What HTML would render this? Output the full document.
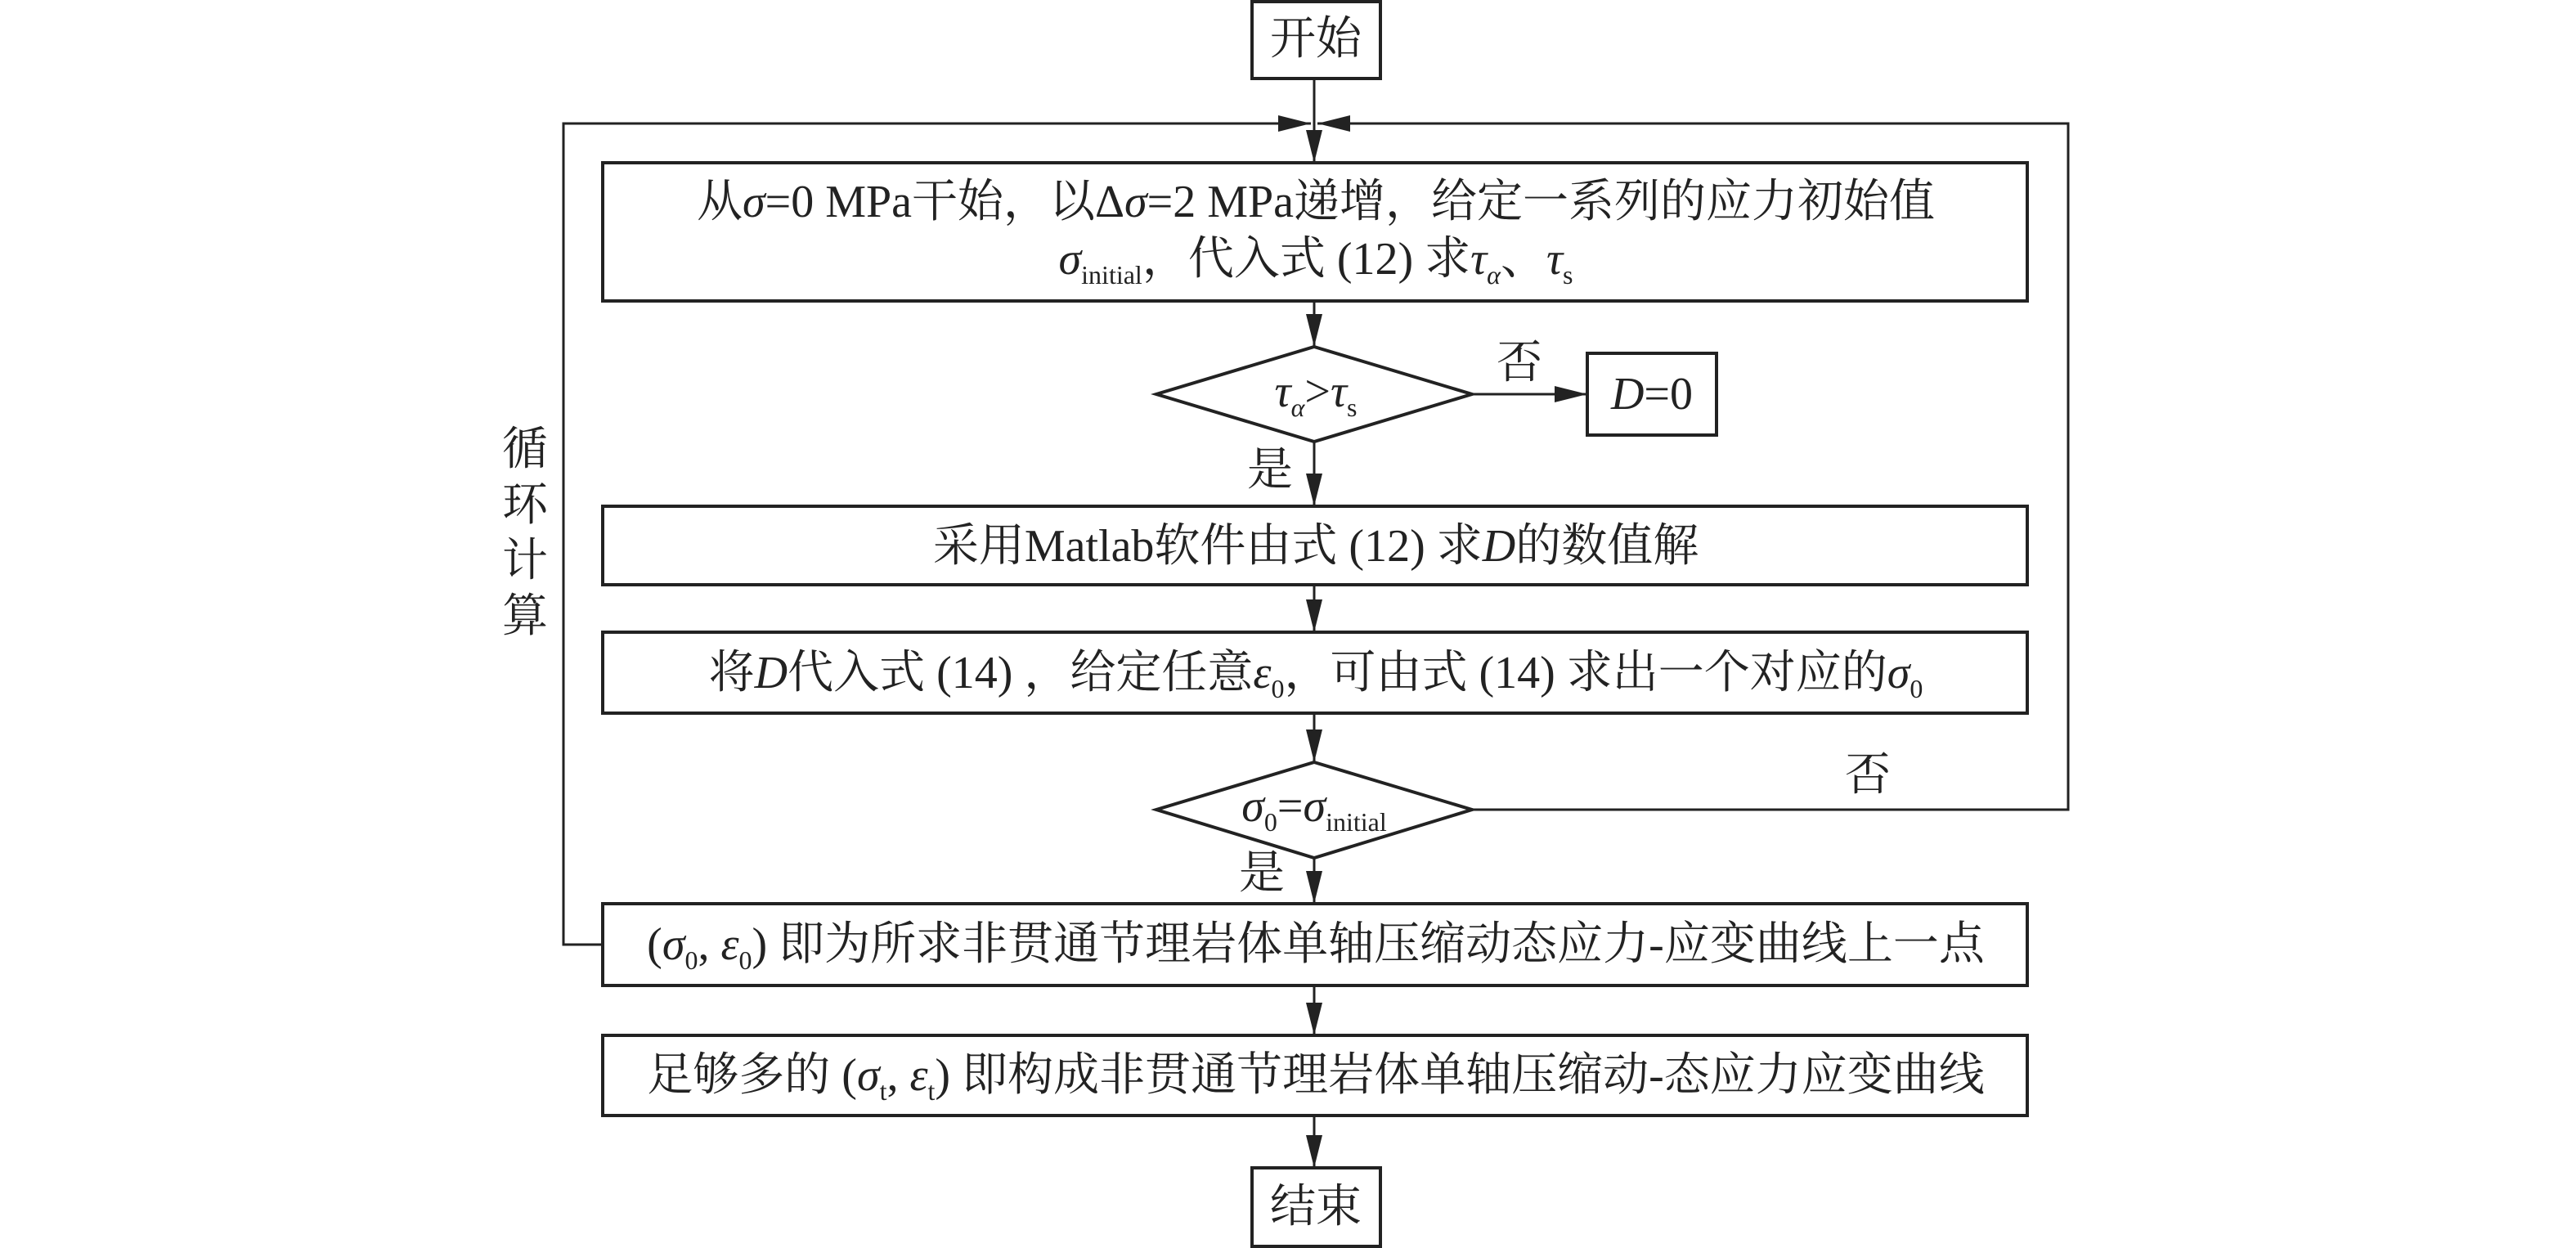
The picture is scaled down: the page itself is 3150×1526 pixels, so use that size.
<!DOCTYPE html>
<html><head><meta charset="utf-8"><style>
html,body{margin:0;padding:0;background:#fff;}
svg{display:block;}
text{font-family:"Liberation Serif","Noto Serif CJK SC",serif;font-size:56px;fill:#222;}
.i{font-style:italic;}
.s{font-size:32px;}
</style></head><body>
<svg width="3150" height="1526" viewBox="0 0 3150 1526" xmlns="http://www.w3.org/2000/svg">
<defs>
<marker id="a" markerWidth="40" markerHeight="20" refX="40" refY="10" orient="auto" markerUnits="userSpaceOnUse" viewBox="0 0 40 20">
<path d="M0,0 L40,10 L0,20 Z" fill="#222"/></marker>
</defs>
<g stroke="#222" stroke-width="4" fill="none">
<rect x="1531" y="2" width="157" height="94"/>
<rect x="737" y="199" width="1742" height="169"/>
<rect x="1941" y="432" width="158" height="100"/>
<rect x="737" y="619" width="1742" height="96"/>
<rect x="737" y="773" width="1742" height="99"/>
<rect x="737" y="1105" width="1742" height="100"/>
<rect x="737" y="1266" width="1742" height="98"/>
<rect x="1531" y="1428" width="157" height="96"/>
<polygon points="1607,424 1800,482 1607,540 1414,482"/>
<polygon points="1607,932 1800,990 1607,1049 1414,990"/>
</g>
<g stroke="#222" stroke-width="3" fill="none">
<line x1="1607" y1="96" x2="1607" y2="199" marker-end="url(#a)"/>
<polyline points="737,1155 689,1155 689,151 1603,151" marker-end="url(#a)"/>
<polyline points="1800,990 2529,990 2529,151 1611,151" marker-end="url(#a)"/>
<line x1="1607" y1="368" x2="1607" y2="424" marker-end="url(#a)"/>
<line x1="1800" y1="482" x2="1941" y2="482" marker-end="url(#a)"/>
<line x1="1607" y1="540" x2="1607" y2="619" marker-end="url(#a)"/>
<line x1="1607" y1="715" x2="1607" y2="773" marker-end="url(#a)"/>
<line x1="1607" y1="872" x2="1607" y2="932" marker-end="url(#a)"/>
<line x1="1607" y1="1049" x2="1607" y2="1105" marker-end="url(#a)"/>
<line x1="1607" y1="1205" x2="1607" y2="1266" marker-end="url(#a)"/>
<line x1="1607" y1="1364" x2="1607" y2="1428" marker-end="url(#a)"/>
</g>
<g text-anchor="middle">
<text x="1609" y="66">开始</text>
<text x="1609" y="265">从<tspan class="i">σ</tspan>=0 MPa干始，以Δ<tspan class="i">σ</tspan>=2 MPa递增，给定一系列的应力初始值</text>
<text x="1609" y="335"><tspan class="i">σ</tspan><tspan class="s" dy="12">initial</tspan><tspan dy="-12">，代入式 (12) 求</tspan><tspan class="i">τ</tspan><tspan class="s i" dy="12">α</tspan><tspan dy="-12">、</tspan><tspan class="i">τ</tspan><tspan class="s" dy="12">s</tspan></text>
<text x="1609" y="497"><tspan class="i">τ</tspan><tspan class="s i" dy="12">α</tspan><tspan dy="-12">&gt;</tspan><tspan class="i">τ</tspan><tspan class="s" dy="12">s</tspan></text>
<text x="2020" y="500"><tspan class="i">D</tspan>=0</text>
<text x="1858" y="462">否</text>
<text x="1553" y="593">是</text>
<text x="1609" y="686">采用Matlab软件由式 (12) 求<tspan class="i">D</tspan>的数值解</text>
<text x="1609" y="841">将<tspan class="i">D</tspan>代入式 (14) ，给定任意<tspan class="i">ε</tspan><tspan class="s" dy="12">0</tspan><tspan dy="-12">，可由式 (14) 求出一个对应的</tspan><tspan class="i">σ</tspan><tspan class="s" dy="12">0</tspan></text>
<text x="1607" y="1004"><tspan class="i">σ</tspan><tspan class="s" dy="12">0</tspan><tspan dy="-12">=</tspan><tspan class="i">σ</tspan><tspan class="s" dy="12">initial</tspan></text>
<text x="2284" y="966">否</text>
<text x="1543" y="1086">是</text>
<text x="1609" y="1173">(<tspan class="i">σ</tspan><tspan class="s" dy="12">0</tspan><tspan dy="-12">, </tspan><tspan class="i">ε</tspan><tspan class="s" dy="12">0</tspan><tspan dy="-12">) 即为所求非贯通节理岩体单轴压缩动态应力-应变曲线上一点</tspan></text>
<text x="1609" y="1333">足够多的 (<tspan class="i">σ</tspan><tspan class="s" dy="12">t</tspan><tspan dy="-12">, </tspan><tspan class="i">ε</tspan><tspan class="s" dy="12">t</tspan><tspan dy="-12">) 即构成非贯通节理岩体单轴压缩动-态应力应变曲线</tspan></text>
<text x="1609" y="1494">结束</text>
<text x="642" y="568">循</text>
<text x="642" y="636">环</text>
<text x="642" y="704">计</text>
<text x="642" y="772">算</text>
</g>
</svg>
</body></html>
